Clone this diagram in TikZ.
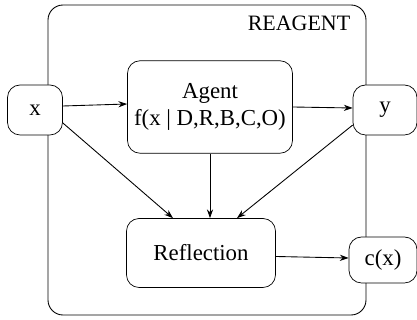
\documentclass[tikz,border=0pt]{standalone}
\usepackage{fontspec}
\setmainfont{Liberation Serif}
\usetikzlibrary{arrows.meta}
\begin{document}
\begin{tikzpicture}[x=0.02cm,y=-0.02cm,
  box/.style={draw,rounded corners=0.25cm,fill=white,inner sep=0pt,align=center,font=\fontsize{13}{15.5}\selectfont},
  arr/.style={-{Stealth[length=5pt,width=3.5pt]},line width=0.5pt}]
\useasboundingbox (0,0) rectangle (417,320);
\draw[line width=0.5pt,rounded corners=0.3cm] (48,5) rectangle (366,315);
\node[font=\fontsize{12.5}{14}\selectfont] (title) at (299,23) {REAGENT};
\node[box,minimum width=1.1cm,minimum height=1cm] (x) at (35,110) {x};
\node[box,minimum width=3.3cm,minimum height=1.85cm] (agent) at (210,107) {Agent\\f(x | D,R,B,C,O)};
\node[box,minimum width=1.28cm,minimum height=1cm] (y) at (385,110) {y};
\node[box,minimum width=2.98cm,minimum height=1.38cm] (refl) at (201,253) {Reflection};
\node[box,minimum width=1.36cm,minimum height=0.92cm] (c) at (383,260) {c(x)};
\draw[arr] ([yshift=0.08cm]x.east) -- ([yshift=0.06cm]agent.west);
\draw[arr] ([yshift=0.0cm]agent.east) -- ([yshift=0.04cm]y.west);
\draw[arr] (x.-25) -- ([xshift=-0.56cm]refl.north);
\draw[arr] (agent.south) -- (agent.south |- refl.north);
\draw[arr] (y.205) -- ([xshift=0.72cm]refl.north);
\draw[arr] ([yshift=-0.07cm]refl.east) -- ([yshift=0.04cm]c.west);
\end{tikzpicture}
\end{document}
